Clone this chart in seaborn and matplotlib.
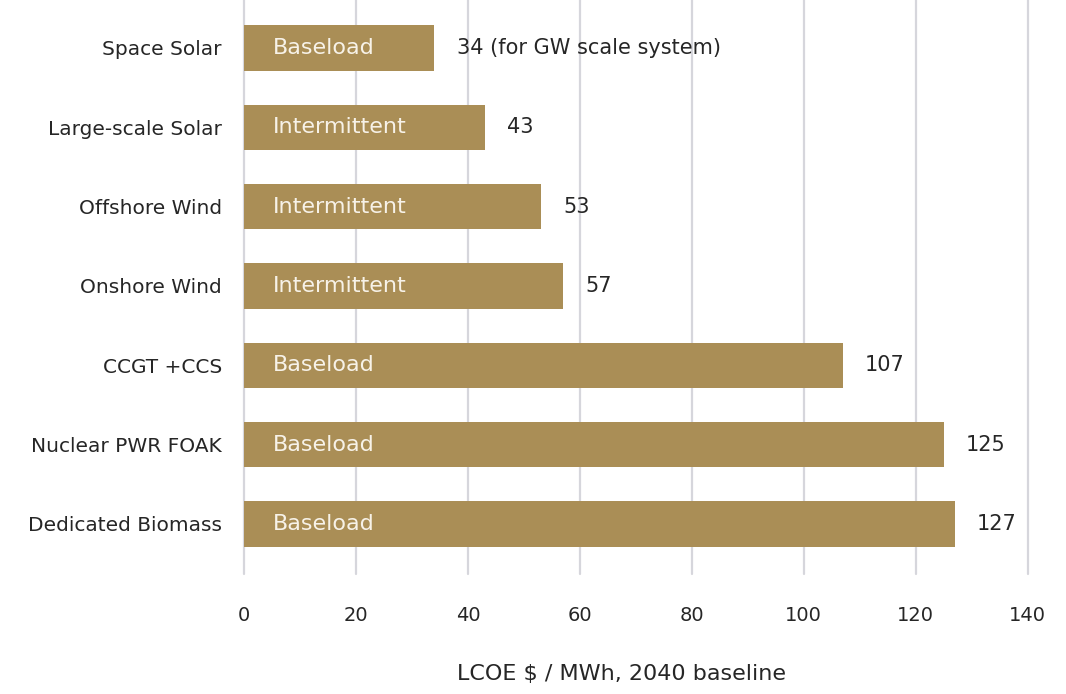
import matplotlib
matplotlib.use("Agg")
import matplotlib.pyplot as plt
import seaborn as sns
import pandas as pd

# LCOE by technology, 2040 baseline
technologies = [
    "Space Solar",
    "Large-scale Solar",
    "Offshore Wind",
    "Onshore Wind",
    "CCGT +CCS",
    "Nuclear PWR FOAK",
    "Dedicated Biomass",
]
lcoe = [34, 43, 53, 57, 107, 125, 127]
supply_type = ["Baseload", "Intermittent", "Intermittent", "Intermittent",
               "Baseload", "Baseload", "Baseload"]
value_labels = ["34 (for GW scale system)", "43", "53", "57", "107", "125", "127"]
x_ticks = [0, 20, 40, 60, 80, 100, 120, 140]

df = pd.DataFrame({"tech": technologies, "lcoe": lcoe, "kind": supply_type})

sns.set_theme(style="white")
plt.rcParams["font.family"] = ["DejaVu Sans"]

bar_color = "#AA8E56"
grid_color = "#D6D6DC"
text_color = "#262626"

fig = plt.figure(figsize=(10.66, 6.94), dpi=100)
ax = fig.add_axes([0.229, 0.173, 0.735, 0.827])

sns.barplot(data=df, x="lcoe", y="tech", orient="h", color=bar_color,
            width=0.57, saturation=1, linewidth=0, ax=ax, zorder=3)

ax.set_xlim(0, 140)
ax.set_ylim(6.63, -0.605)
ax.set_xticks(x_ticks)
ax.set_xticklabels([str(t) for t in x_ticks], fontsize=14, color=text_color)
ax.tick_params(axis="x", length=0, pad=23)
ax.tick_params(axis="y", length=0, pad=16)
for lbl in ax.get_yticklabels():
    lbl.set_fontsize(14.5)
    lbl.set_color(text_color)

ax.xaxis.grid(True, color=grid_color, linewidth=1.6, zorder=0)
for gl in ax.get_xgridlines():
    gl.set_clip_on(False)
ax.yaxis.grid(False)
for s in ax.spines.values():
    s.set_visible(False)

ax.set_xlabel("")
ax.set_ylabel("")

for i, (v, kind, lab) in enumerate(zip(lcoe, supply_type, value_labels)):
    ax.text(5.2, i, kind, va="center", ha="left", fontsize=16,
            color="#F7F2E8", zorder=4)
    ax.annotate(lab, xy=(v, i), xytext=(16, 0), textcoords="offset points",
                va="center", ha="left", fontsize=15, color=text_color, zorder=4)

fig.text(0.583, 0.014, "LCOE $ / MWh, 2040 baseline", ha="center", va="bottom",
         fontsize=16, color=text_color)

fig.savefig("out.png", dpi=100, facecolor="white")
